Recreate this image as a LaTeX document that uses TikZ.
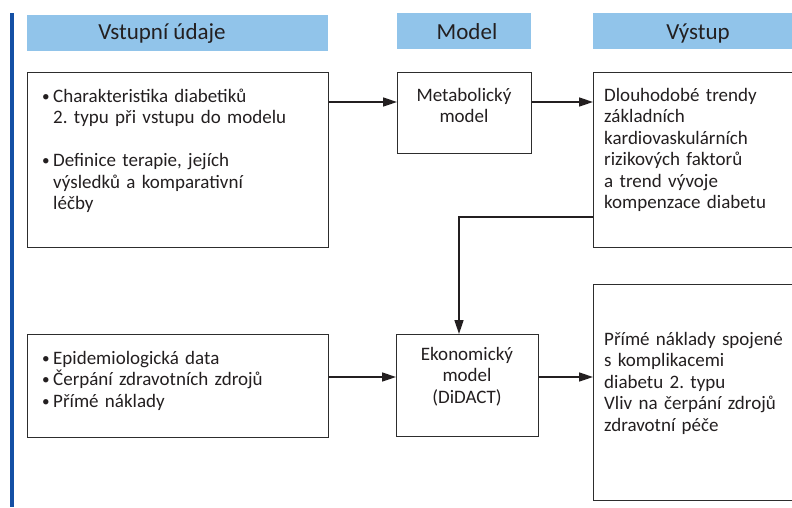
\documentclass[tikz,border=0pt]{standalone}
\usepackage{fontspec}
\setmainfont{Carlito}
\usetikzlibrary{arrows.meta,calc}
\definecolor{hdrblue}{RGB}{145,196,234}
\definecolor{barblue}{RGB}{20,80,165}
\definecolor{ink}{RGB}{35,31,32}
\definecolor{edge}{RGB}{45,45,45}
\newcommand\bul{\makebox[12pt][l]{\hspace{1pt}\raisebox{1pt}{\scalebox{0.8}{•}}}}
\newcommand\ind{\hspace*{12pt}}
\tikzset{
  hdr/.style={fill=hdrblue, draw=none, inner sep=0pt, anchor=north west, minimum height=36pt},
  htxt/.style={font=\fontsize{23}{26}\selectfont, text=ink, inner sep=0pt, anchor=base},
  box/.style={draw=edge, line width=1.3pt, fill=white, inner sep=0pt, anchor=north west},
  body/.style={font=\fontsize{19}{21.5}\selectfont, text=ink, inner sep=0pt},
  lbody/.style={body, align=left, text width=260pt, anchor=base west},
  cbody/.style={body, align=center, text width=130pt, anchor=base},
  arr/.style={draw=ink, line width=1.6pt, -{Triangle[length=14pt,width=9pt]}}
}
\begin{document}
\begin{tikzpicture}[x=1pt,y=-1pt]
\useasboundingbox (0,0) rectangle (792,507);
\clip (0,0) rectangle (792,507);
% blue side bar
\fill[barblue] (10,13) rectangle (14,507);
% headers
\node[hdr, minimum width=301pt] (h1) at (27,15) {};
\node[hdr, minimum width=134pt] (h2) at (397,13) {};
\node[hdr, minimum width=215pt] (h3) at (593,13) {};
\node[htxt] (h1t) at (162,39) {Vstupní údaje};
\node[htxt] (h2t) at (467,39) {Model};
\node[htxt] (h3t) at (698,39) {Výstup};
% boxes
\node[box, minimum width=301pt, minimum height=175pt] (A) at (27,72) {};
\node[box, minimum width=134pt, minimum height=81pt] (M) at (397,72) {};
\node[box, minimum width=215pt, minimum height=175pt] (D) at (593,72) {};
\node[box, minimum width=301pt, minimum height=103pt] (B) at (27,334) {};
\node[box, minimum width=142pt, minimum height=102pt] (E) at (396,334) {};
\node[box, minimum width=215pt, minimum height=216pt] (P) at (593,284) {};
% texts
\node[lbody] (At) at (41,102) {\bul Charakteristika diabetiků\\
\ind 2.~typu při vstupu do modelu\\[21.5pt]
\bul Definice terapie, jejích\\
\ind výsledků a komparativní\\
\ind léčby};
\node[cbody] (Mt) at (464,101) {Metabolický\\model};
\node[lbody] (Dt) at (604,101) {Dlouhodobé trendy\\základních\\kardiovaskulárních\\rizikových faktorů\\a trend vývoje\\kompenzace diabetu};
\node[lbody] (Bt) at (41,364) {\bul Epidemiologická data\\\bul Čerpání zdravotních zdrojů\\\bul Přímé náklady};
\node[cbody] (Et) at (467,360) {Ekonomický\\model\\(DiDACT)};
\node[lbody] (Pt) at (604,345) {Přímé náklady spojené\\s komplikacemi\\diabetu 2.~typu\\Vliv na čerpání zdrojů\\zdravotní péče};
% connectors
\coordinate (ya) at (0,102);
\coordinate (yb) at (459,217);
\coordinate (yc) at (0,377);
\draw[arr] (A.east |- ya) -- (M.west |- ya);
\draw[arr] (M.east |- ya) -- (D.west |- ya);
\draw[arr] (D.west |- yb) -| (E.north -| yb);
\draw[arr] (B.east |- yc) -- (E.west |- yc);
\draw[arr] (E.east |- yc) -- (P.west |- yc);
\end{tikzpicture}
\end{document}
